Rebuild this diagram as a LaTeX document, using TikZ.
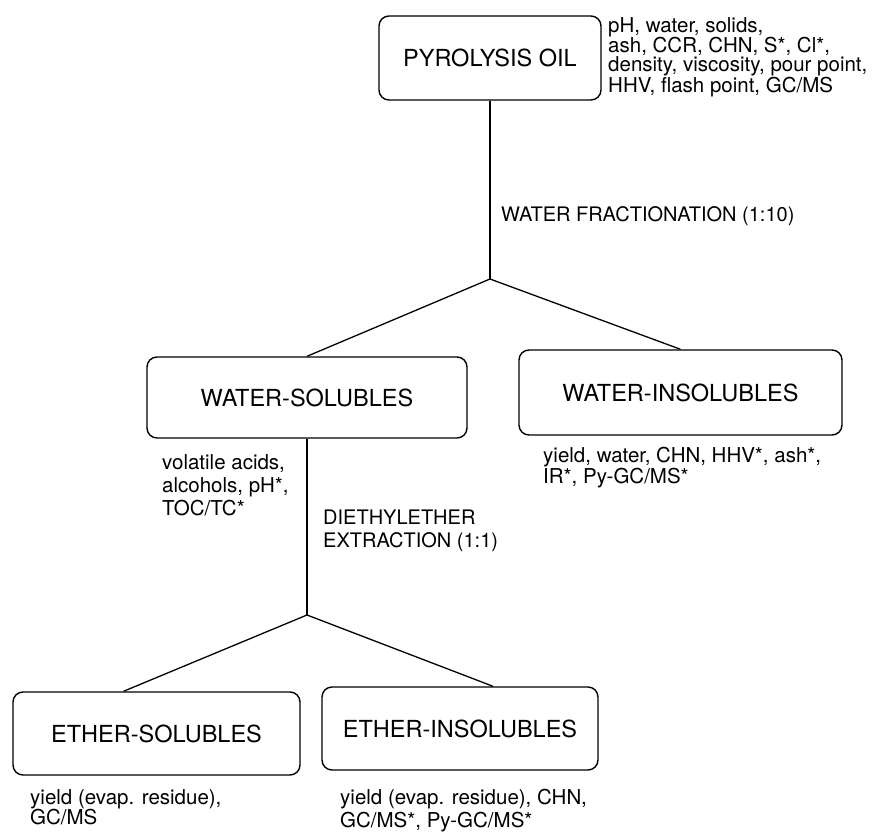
\documentclass[tikz,border=0pt]{standalone}
\usepackage{fontspec}
\setmainfont{TeX Gyre Heros}

\tikzset{
    stage/.style={draw, rounded corners=10pt, line width=1.4pt, inner sep=0pt, font=\fontsize{23.5}{26}\selectfont},
    notes/.style={anchor=north west, align=left, inner sep=0pt, font=\fontsize{20.5}{#1}\selectfont},
    step label/.style={anchor=north west, align=left, inner sep=0pt, font=\fontsize{20}{23}\selectfont},
    link/.style={line width=1.3pt}
}

\begin{document}
\begin{tikzpicture}[x=1pt, y=-1pt]
                \useasboundingbox (0,0) rectangle (881,832);
                \node[stage, minimum width=222pt, minimum height=84pt] (oil) at (490,58) {PYROLYSIS OIL};
                \node[notes=17.8] (oilnotes) at (608,17) {
                    pH, water, solids,\\
                    ash, CCR, CHN, S*, Cl*,\\
                    density, viscosity, pour point,\\
                    HHV, flash point, GC/MS
                };
                \coordinate (split1) at (490,279);
                \node[step label] (frac) at (501,206) {WATER FRACTIONATION (1:10)};

                \node[stage, minimum width=320pt, minimum height=81pt] (ws) at (307,397.5) {WATER-SOLUBLES};
                \node[stage, minimum width=323pt, minimum height=85pt] (wi) at (680.5,392.5) {WATER-INSOLUBLES};
                \node[notes=23] (wsnotes) at (162,454) {
                    volatile acids,\\
                    alcohols, pH*,\\
                    TOC/TC*
                };
                \node[notes=19] (winotes) at (543,447) {
                    yield, water, CHN, HHV*, ash*,\\
                    IR*, Py-GC/MS*
                };
                \node[step label] (extract) at (323,510) {
                    DIETHYLETHER\\
                    EXTRACTION (1:1)
                };
                \coordinate (split2) at (307,615);

                \node[stage, minimum width=287pt, minimum height=83pt] (es) at (156.5,733.5) {ETHER-SOLUBLES};
                \node[stage, minimum width=276pt, minimum height=83pt] (ei) at (460,728.5) {ETHER-INSOLUBLES};
                \node[notes=20] (esnotes) at (30,789) {
                    yield (evap. residue),\\
                    GC/MS
                };
                \node[notes=23] (einotes) at (340,789) {
                    yield (evap. residue), CHN,\\
                    GC/MS*, Py-GC/MS*
                };

                \draw[link] (oil.south) -- (split1);
                \draw[link] (ws.north) -- (split1) -- (wi.north);
                \draw[link] (ws.south) -- (split2);
                \draw[link] ([xshift=-33pt]es.north) -- (split2) -- ([xshift=33pt]ei.north);
            \end{tikzpicture}
\end{document}
